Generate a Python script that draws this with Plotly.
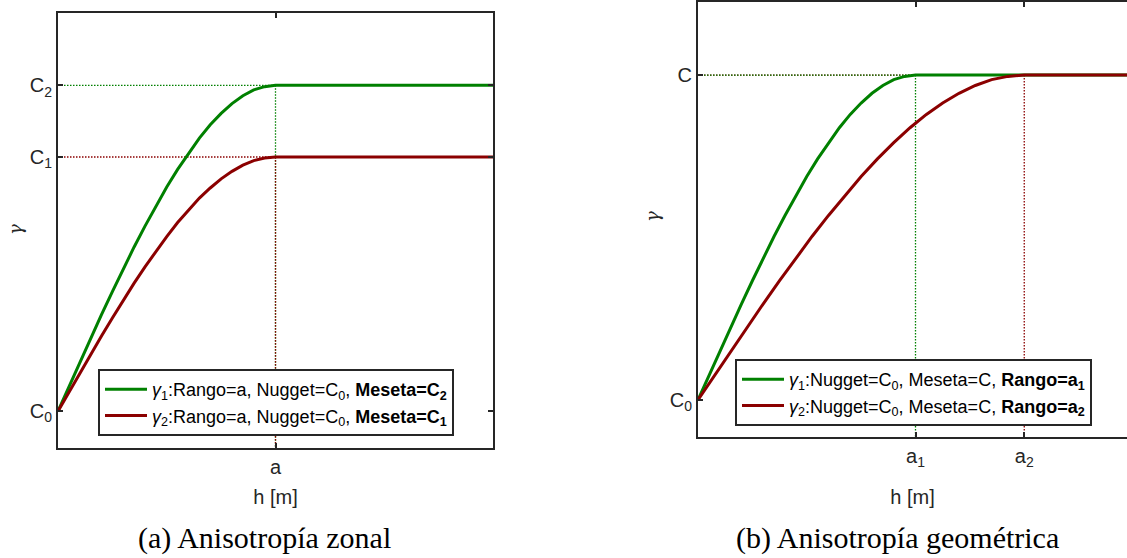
import plotly.graph_objects as go

W, H = 1127, 558

# ---- data ----
# panel (a): zonal anisotropy, same range a, different sills
a = 1.0
C0_a, C1, C2 = 0.0, 0.78, 1.0
h_a = [0, 0.05, 0.1, 0.15, 0.2, 0.25, 0.3, 0.35, 0.4, 0.45, 0.5, 0.55, 0.6, 0.65,
       0.7, 0.75, 0.8, 0.85, 0.9, 0.95, 1.0, 2.0]
g1_a = [0, 0.075, 0.150, 0.223, 0.296, 0.367, 0.437, 0.504, 0.568, 0.629, 0.688, 0.742,
        0.792, 0.838, 0.879, 0.914, 0.944, 0.968, 0.986, 0.996, 1.0, 1.0]
g2_a = [0, 0.058, 0.117, 0.174, 0.231, 0.286, 0.340, 0.393, 0.443, 0.491, 0.536, 0.579,
        0.618, 0.654, 0.685, 0.713, 0.736, 0.755, 0.769, 0.777, 0.78, 0.78]

# panel (b): geometric anisotropy, same sill, different ranges
a1, a2 = 1.0, 1.5
C0_b, C = 0.0, 1.0
h1_b = [0, 0.05, 0.1, 0.15, 0.2, 0.25, 0.3, 0.35, 0.4, 0.45, 0.5, 0.55, 0.6, 0.65,
        0.7, 0.75, 0.8, 0.85, 0.9, 0.95, 1.0, 2.0]
g1_b = [0, 0.075, 0.150, 0.223, 0.296, 0.367, 0.437, 0.504, 0.568, 0.629, 0.688, 0.742,
        0.792, 0.838, 0.879, 0.914, 0.944, 0.968, 0.986, 0.996, 1.0, 1.0]
h2_b = [0, 0.075, 0.15, 0.225, 0.3, 0.375, 0.45, 0.525, 0.6, 0.675, 0.75, 0.825, 0.9,
        0.975, 1.05, 1.125, 1.2, 1.275, 1.35, 1.425, 1.5, 2.0]
g2_b = [0, 0.075, 0.150, 0.223, 0.296, 0.367, 0.437, 0.504, 0.568, 0.629, 0.688, 0.742,
        0.792, 0.838, 0.879, 0.914, 0.944, 0.968, 0.986, 0.996, 1.0, 1.0]

yrange_a = [-0.113, 1.222]
yrange_b = [-0.114, 1.225]

name1_a = "<i>γ</i><sub>1</sub>:Rango=a, Nugget=C<sub>0</sub>, <b>Meseta=C<sub>2</sub></b>"
name2_a = "<i>γ</i><sub>2</sub>:Rango=a, Nugget=C<sub>0</sub>, <b>Meseta=C<sub>1</sub></b>"
name1_b = "<i>γ</i><sub>1</sub>:Nugget=C<sub>0</sub>, Meseta=C, <b>Rango=a<sub>1</sub></b>"
name2_b = "<i>γ</i><sub>2</sub>:Nugget=C<sub>0</sub>, Meseta=C, <b>Rango=a<sub>2</sub></b>"

GREEN = "#008000"
RED = "#8b0000"
AX = "#262626"
DOT = "1.5px,1.5px"

fig = go.Figure()

def dotted(x, y, color, xa, ya):
    fig.add_trace(go.Scatter(x=x, y=y, mode="lines", xaxis=xa, yaxis=ya,
                             line=dict(color=color, width=1.3, dash=DOT),
                             showlegend=False, hoverinfo="skip"))

# panel (a) reference lines
dotted([0, a], [C2, C2], GREEN, "x", "y")
dotted([a, a], [C2, yrange_a[0]], GREEN, "x", "y")
dotted([0, a], [C1, C1], RED, "x", "y")
dotted([a, a], [C1, yrange_a[0]], RED, "x", "y")
# panel (b) reference lines
dotted([0, a2], [C, C], RED, "x2", "y2")
dotted([0, a1], [C, C], GREEN, "x2", "y2")
dotted([a1, a1], [C, yrange_b[0]], GREEN, "x2", "y2")
dotted([a2, a2], [C, yrange_b[0]], RED, "x2", "y2")

fig.add_trace(go.Scatter(x=h_a, y=g1_a, mode="lines", name=name1_a, legend="legend",
                         line=dict(color=GREEN, width=3), xaxis="x", yaxis="y"))
fig.add_trace(go.Scatter(x=h_a, y=g2_a, mode="lines", name=name2_a, legend="legend",
                         line=dict(color=RED, width=3), xaxis="x", yaxis="y"))
fig.add_trace(go.Scatter(x=h1_b, y=g1_b, mode="lines", name=name1_b, legend="legend2",
                         line=dict(color=GREEN, width=3), xaxis="x2", yaxis="y2"))
fig.add_trace(go.Scatter(x=h2_b, y=g2_b, mode="lines", name=name2_b, legend="legend2",
                         line=dict(color=RED, width=3), xaxis="x2", yaxis="y2"))

FONT = "Liberation Sans, Arial, sans-serif"
tickfont = dict(family=FONT, size=20, color=AX)
common = dict(showgrid=False, zeroline=False, showline=True, linecolor=AX, linewidth=2,
              ticks="inside", ticklen=5, tickwidth=1.5, tickcolor=AX, tickfont=tickfont)

px = lambda v: v / W
py = lambda v: 1 - v / H
legfont = dict(family=FONT, size=18, color="black")

fig.update_layout(
    width=W, height=H, autosize=False,
    margin=dict(l=0, r=0, t=0, b=0),
    paper_bgcolor="white", plot_bgcolor="white",
    font=dict(family=FONT, color=AX),
    xaxis=dict(domain=[px(58), px(493)], range=[0, 2], tickvals=[a], ticktext=["a"],
               mirror="ticks", anchor="y",
               title=dict(text="h [m]", font=dict(family=FONT, size=20, color=AX), standoff=13),
               **common),
    yaxis=dict(domain=[py(448), py(13)], range=yrange_a, tickvals=[C0_a, C1, C2],
               ticktext=["C<sub>0</sub>", "C<sub>1</sub>", "C<sub>2</sub>"],
               mirror="ticks", anchor="x", **common),
    xaxis2=dict(domain=[px(698), 1], range=[0, 2 * (W - 698) / 435], tickvals=[a1, a2],
                ticktext=["a<sub>1</sub>", "a<sub>2</sub>"], mirror="ticks", anchor="y2",
                title=dict(text="h [m]", font=dict(family=FONT, size=20, color=AX), standoff=21),
                **common),
    yaxis2=dict(domain=[py(437), py(2)], range=yrange_b, tickvals=[C0_b, C],
                ticktext=["C<sub>0</sub>", "C"], mirror=False, anchor="x2", **common),
    legend=dict(x=px(98), y=py(369), xanchor="left", yanchor="top", itemwidth=42,
                bordercolor=AX, borderwidth=2, bgcolor="white",
                font=legfont, tracegroupgap=0),
    legend2=dict(x=px(735), y=py(359), xanchor="left", yanchor="top", itemwidth=42,
                 bordercolor=AX, borderwidth=2, bgcolor="white",
                 font=legfont, tracegroupgap=0),
    annotations=[
        dict(text="<i>γ</i>", x=px(15), y=py(230), xref="paper", yref="paper",
             xanchor="center", yanchor="middle",
             showarrow=False, textangle=-90, font=dict(family="DejaVu Serif", size=18, color=AX)),
        dict(text="<i>γ</i>", x=px(653), y=py(217), xref="paper", yref="paper",
             xanchor="center", yanchor="middle",
             showarrow=False, textangle=-90, font=dict(family="DejaVu Serif", size=18, color=AX)),
        dict(text="(a) Anisotropía zonal", x=px(264), y=py(538), xref="paper", yref="paper",
             xanchor="center", yanchor="middle",
             showarrow=False, font=dict(family="Liberation Serif", size=30, color="black")),
        dict(text="(b) Anisotropía geométrica", x=px(897), y=py(538), xref="paper", yref="paper",
             xanchor="center", yanchor="middle",
             showarrow=False, font=dict(family="Liberation Serif", size=30, color="black")),
    ],
)

fig.write_html("out.html")
